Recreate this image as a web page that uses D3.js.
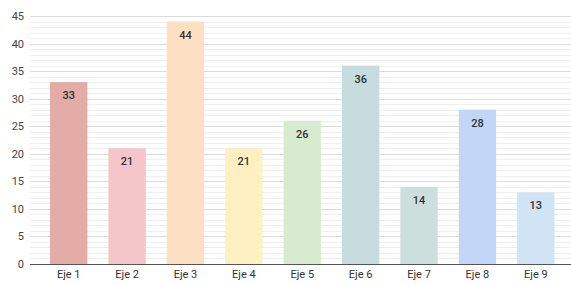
<!DOCTYPE html>
<html>
<head>
<meta charset="utf-8">
<script src="https://cdn.jsdelivr.net/npm/d3@7"></script>
<style>
  body { margin: 0; background: #fff; }
  svg { display: block; font-family: Roboto, "Noto Sans", sans-serif; }
</style>
</head>
<body>
<svg id="chart" width="571" height="285"></svg>
<script>
const categories = ["Eje 1", "Eje 2", "Eje 3", "Eje 4", "Eje 5", "Eje 6", "Eje 7", "Eje 8", "Eje 9"];
const values = [33, 21, 44, 21, 26, 36, 14, 28, 13];
const colors = ["#e3aca6", "#f4c5c9", "#fde0c3", "#fff0c2", "#d8ebcf", "#c7dcdf", "#cddfdd", "#c3d6f7", "#d0e4f5"];
const yTicks = [0, 5, 10, 15, 20, 25, 30, 35, 40, 45];

const svg = d3.select("#chart");
const width = 571, height = 285;
let margin = { top: 16, bottom: 21, left: 30, right: 0 };

let xScale = d3.scaleBand()
  .domain(categories)
  .range([39.5, 565])
  .paddingInner(0.36)
  .paddingOuter(0.18);

let yScale = d3.scaleLinear()
  .domain([0, 45])
  .range([height - margin.bottom, margin.top]);

// minor grid
svg.append("g")
  .selectAll("line")
  .data(d3.range(0, 46).filter(d => d % 5 !== 0))
  .join("line")
  .attr("x1", margin.left).attr("x2", width)
  .attr("y1", d => Math.round(yScale(d)) + 0.5)
  .attr("y2", d => Math.round(yScale(d)) + 0.5)
  .attr("stroke", "#efefef");

// major grid
svg.append("g")
  .selectAll("line")
  .data(yTicks.filter(d => d > 0))
  .join("line")
  .attr("x1", margin.left).attr("x2", width)
  .attr("y1", d => Math.round(yScale(d)) + 0.5)
  .attr("y2", d => Math.round(yScale(d)) + 0.5)
  .attr("stroke", "#dcdcdc");

// bars
svg.append("g")
  .selectAll("rect")
  .data(values)
  .join("rect")
  .attr("x", (d, i) => xScale(categories[i]))
  .attr("width", xScale.bandwidth())
  .attr("y", d => yScale(d))
  .attr("height", d => yScale(0) - yScale(d))
  .attr("fill", (d, i) => colors[i]);

// value labels
svg.append("g")
  .selectAll("text")
  .data(values)
  .join("text")
  .attr("x", (d, i) => xScale(categories[i]) + xScale.bandwidth() / 2)
  .attr("y", d => yScale(d) + 17)
  .attr("text-anchor", "middle")
  .attr("font-size", 11)
  .attr("font-weight", 500)
  .attr("fill", "#333")
  .text(d => d);

// y axis labels
let yAxis = d3.axisLeft(yScale).tickValues(yTicks).tickSize(0).tickPadding(0);
let gy = svg.append("g")
  .attr("transform", `translate(24,0)`)
  .call(yAxis);
gy.select(".domain").remove();
gy.selectAll("text").attr("font-size", 11).attr("fill", "#444").attr("font-family", "Roboto, sans-serif");

// x axis
let xAxis = d3.axisBottom(xScale).tickSize(0).tickPadding(6);
let gx = svg.append("g")
  .attr("transform", `translate(0,${yScale(0)})`)
  .call(xAxis);
gx.select(".domain").remove();
gx.selectAll("text").attr("font-size", 11).attr("fill", "#333").attr("font-family", "Roboto, sans-serif");

svg.append("line")
  .attr("x1", margin.left).attr("x2", width)
  .attr("y1", Math.round(yScale(0)) + 0.5).attr("y2", Math.round(yScale(0)) + 0.5)
  .attr("stroke", "#555");
</script>
</body>
</html>
